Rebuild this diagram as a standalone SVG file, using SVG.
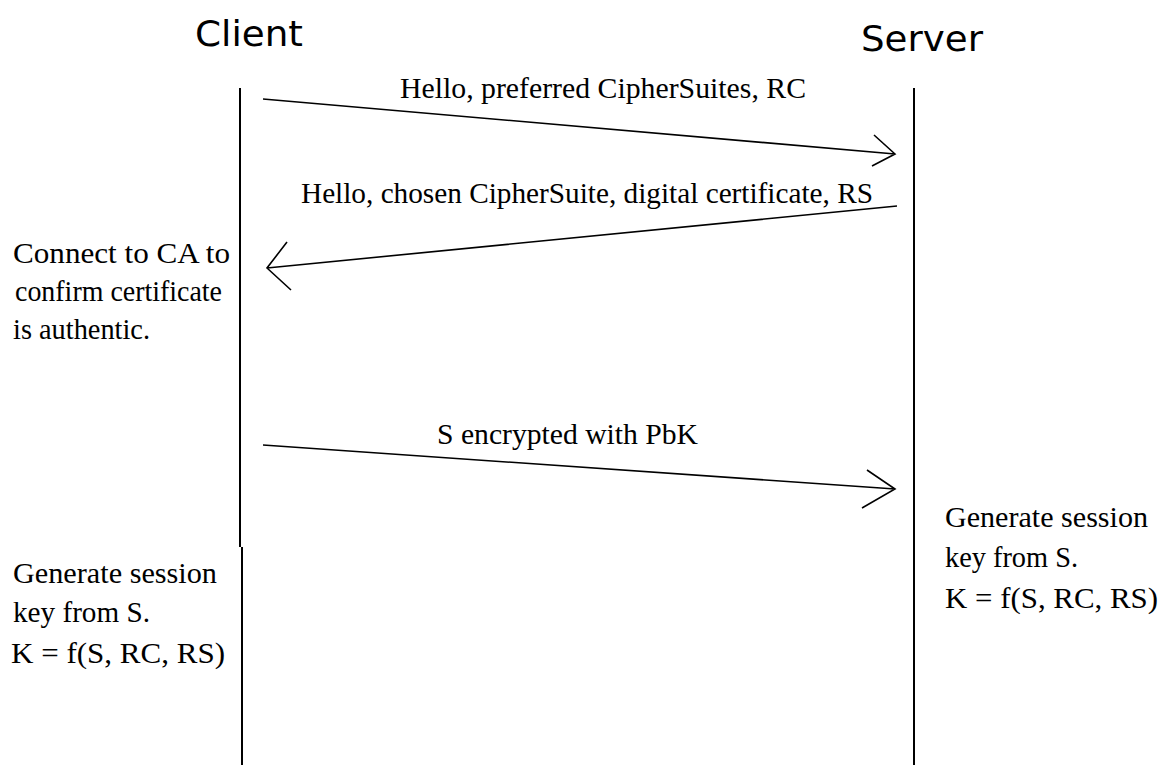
<svg xmlns="http://www.w3.org/2000/svg" width="1166" height="765" viewBox="0 0 1166 765">
  <style>
    .title { font-family: "DejaVu Sans", "Liberation Sans", sans-serif; font-size: 35px; fill: #000; }
    .label { font-family: "Liberation Serif", "Times New Roman", serif; font-size: 30px; fill: #000; }
    .lifeline { stroke: #000; stroke-width: 2; fill: none; }
    .msg { stroke: #000; stroke-width: 1.6; fill: none; }
  </style>
  <rect width="1166" height="765" fill="#fff"/>

  <!-- participants -->
  <g id="client">
    <text class="title" x="195" y="46" textLength="108" lengthAdjust="spacingAndGlyphs">Client</text>
    <path class="lifeline" d="M240 88 V547 M242 547 V765"/>
  </g>
  <g id="server">
    <text class="title" x="861" y="51" textLength="122" lengthAdjust="spacingAndGlyphs">Server</text>
    <path class="lifeline" d="M914 88 V765"/>
  </g>

  <!-- notes beside the lifelines -->
  <g id="client-verify">
    <text class="label" x="13" y="263" textLength="217" lengthAdjust="spacingAndGlyphs">Connect to CA to</text>
    <text class="label" x="15" y="301" textLength="207" lengthAdjust="spacingAndGlyphs">confirm certificate</text>
    <text class="label" x="13" y="339" textLength="137" lengthAdjust="spacingAndGlyphs">is authentic.</text>
  </g>
  <g id="client-session-key">
    <text class="label" x="13" y="583" textLength="204" lengthAdjust="spacingAndGlyphs">Generate session</text>
    <text class="label" x="13" y="622" textLength="137" lengthAdjust="spacingAndGlyphs">key from S.</text>
    <text class="label" x="11" y="663" textLength="214" lengthAdjust="spacingAndGlyphs">K = f(S, RC, RS)</text>
  </g>
  <g id="server-session-key">
    <text class="label" x="945" y="527" textLength="203" lengthAdjust="spacingAndGlyphs">Generate session</text>
    <text class="label" x="945" y="567" textLength="133" lengthAdjust="spacingAndGlyphs">key from S.</text>
    <text class="label" x="945" y="608" textLength="213" lengthAdjust="spacingAndGlyphs">K = f(S, RC, RS)</text>
  </g>

  <!-- messages -->
  <g id="connectors">
    <g id="msg-client-hello">
      <path class="msg" d="M263 99 L895 154 M874 135 L895 154 L872 166"/>
      <text class="label" x="400" y="98" textLength="406" lengthAdjust="spacingAndGlyphs">Hello, preferred CipherSuites, RC</text>
    </g>
    <g id="msg-server-hello">
      <path class="msg" d="M897 206 L267 268 M287 242 L267 268 L291 290"/>
      <text class="label" x="301" y="203" textLength="572" lengthAdjust="spacingAndGlyphs">Hello, chosen CipherSuite, digital certificate, RS</text>
    </g>
    <g id="msg-secret">
      <path class="msg" d="M263 445 L895 489 M867 470 L895 489 L862 508"/>
      <text class="label" x="437" y="444" textLength="261" lengthAdjust="spacingAndGlyphs">S encrypted with PbK</text>
    </g>
  </g>
</svg>
